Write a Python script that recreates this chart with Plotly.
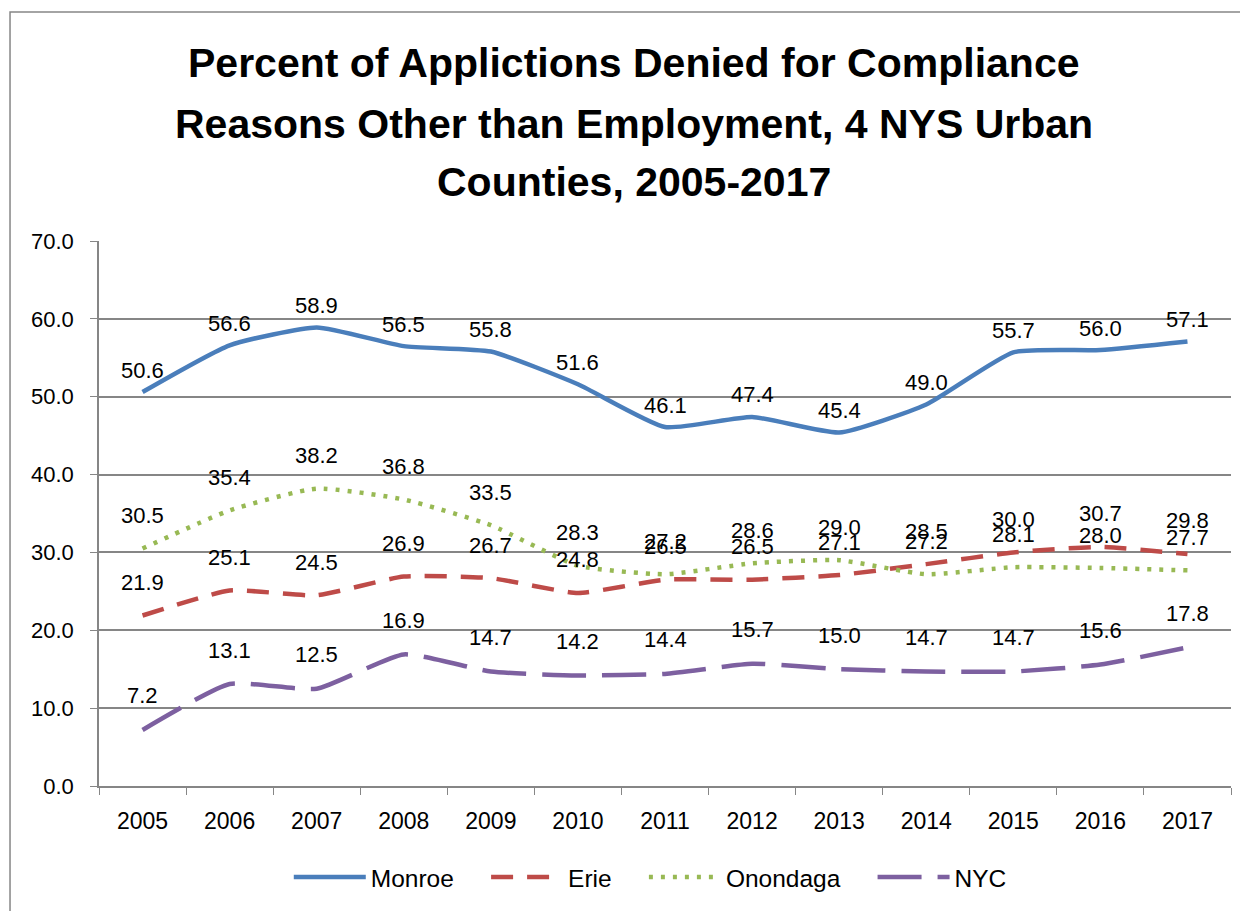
import plotly.graph_objects as go

years = [2005, 2006, 2007, 2008, 2009, 2010, 2011, 2012, 2013, 2014, 2015, 2016, 2017]
monroe = [50.6, 56.6, 58.9, 56.5, 55.8, 51.6, 46.1, 47.4, 45.4, 49.0, 55.7, 56.0, 57.1]
erie = [21.9, 25.1, 24.5, 26.9, 26.7, 24.8, 26.5, 26.5, 27.1, 28.5, 30.0, 30.7, 29.8]
onondaga = [30.5, 35.4, 38.2, 36.8, 33.5, 28.3, 27.2, 28.6, 29.0, 27.2, 28.1, 28.0, 27.7]
nyc = [7.2, 13.1, 12.5, 16.9, 14.7, 14.2, 14.4, 15.7, 15.0, 14.7, 14.7, 15.6, 17.8]
y_ticks = [0, 10, 20, 30, 40, 50, 60, 70]
title_lines = [
    "Percent of Applictions Denied for Compliance",
    "Reasons Other than Employment, 4 NYS Urban",
    "Counties, 2005-2017",
]

series = [
    ("Monroe", monroe, "#4A7EBB", "solid", 22),
    ("Erie", erie, "#BE4B48", "22px,14px", 33),
    ("Onondaga", onondaga, "#98B954", "4px,8px", 33),
    ("NYC", nyc, "#7D60A0", "44px,16px", 34),
]

FONT = "Liberation Sans, Arial, sans-serif"
PAD = "\u00a0" * 4

fig = go.Figure()
annotations = []
for i, (name, vals, color, dash, shift) in enumerate(series):
    label = name + (PAD if i < len(series) - 1 else "")
    fig.add_trace(go.Scatter(
        x=years, y=vals, name=label, mode="lines",
        line=dict(color=color, width=4.5, dash=dash, shape="spline", smoothing=0.5),
    ))
    for x, v in zip(years, vals):
        annotations.append(dict(
            x=x, y=v, xref="x", yref="y", text=f"{v:.1f}", showarrow=False,
            yshift=shift, font=dict(size=22, color="#000000", family=FONT),
        ))

for line, yp in zip(title_lines, [1.3266, 1.2147, 1.1083]):
    annotations.append(dict(
        x=0.4726, y=yp, xref="paper", yref="paper", text=f"<b>{line}</b>",
        showarrow=False, xanchor="center", yanchor="middle",
        font=dict(family=FONT, size=41, color="#000000"),
    ))

fig.update_layout(
    width=1240, height=903,
    margin=dict(l=91, r=17, t=233, b=125),
    paper_bgcolor="white", plot_bgcolor="white",
    annotations=annotations,
    showlegend=True,
    legend=dict(
        orientation="h", x=0.487, xanchor="center", y=-0.167, yanchor="middle",
        font=dict(family=FONT, size=24.5, color="#000000"),
        itemwidth=72,
    ),
    shapes=[dict(type="rect", xref="paper", yref="paper", x0=-0.0786, x1=1.05,
                 y0=-0.4, y1=1.420, line=dict(color="#868686", width=1.5))],
)
fig.update_xaxes(
    range=[2004.5, 2017.5], tickvals=years, ticktext=[str(y) for y in years],
    showgrid=False, zeroline=False, showline=True, linecolor="#868686", linewidth=1.5,
    ticks="", ticklabelstandoff=14, tickfont=dict(family=FONT, size=23, color="#000000"),
    minor=dict(tick0=2004.5, dtick=1, ticks="outside", ticklen=7, tickcolor="#868686", showgrid=False),
)
fig.update_yaxes(
    range=[0, 70], tickvals=y_ticks, ticktext=[f"{t:.1f}" for t in y_ticks],
    showgrid=True, gridcolor="#868686", gridwidth=1.5, zeroline=False,
    showline=True, linecolor="#868686", linewidth=1.5,
    ticks="outside", ticklen=7, tickcolor="#868686", ticklabelstandoff=12,
    tickfont=dict(family=FONT, size=22, color="#000000"),
)
fig.write_html("out.html")
